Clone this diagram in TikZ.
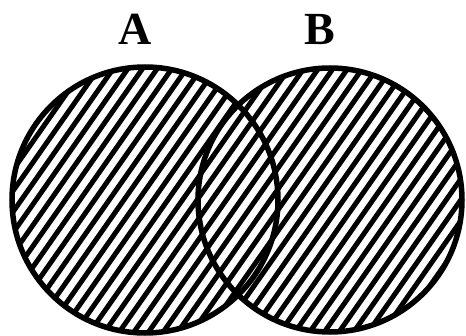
\documentclass[tikz,border=0pt]{standalone}
\usepackage{fontspec}
\setmainfont{Liberation Serif}
\begin{document}
\begin{tikzpicture}[x=1pt,y=1pt,
  ring/.style={line width=5.5pt},
  hatch/.style={line width=5pt},
  lbl/.style={font=\fontsize{46}{46}\selectfont\bfseries, inner sep=0pt, anchor=base}]
\useasboundingbox (0,0) rectangle (466,335);
\coordinate (cA) at (145,135);
\coordinate (cB) at (330,135);
\begin{scope}
  \clip (cA) circle (133) (cB) circle (132);
  \begin{scope}[rotate=55]
    \foreach \i in {-60,...,60}
      \draw[hatch] (-600,\i*12) -- (600,\i*12);
  \end{scope}
\end{scope}
\draw[ring] (cA) circle (133);
\draw[ring] (cB) circle (132);
\node[lbl] (A) at (135,290) {A};
\node[lbl] (B) at (320,290) {B};
\end{tikzpicture}
\end{document}
